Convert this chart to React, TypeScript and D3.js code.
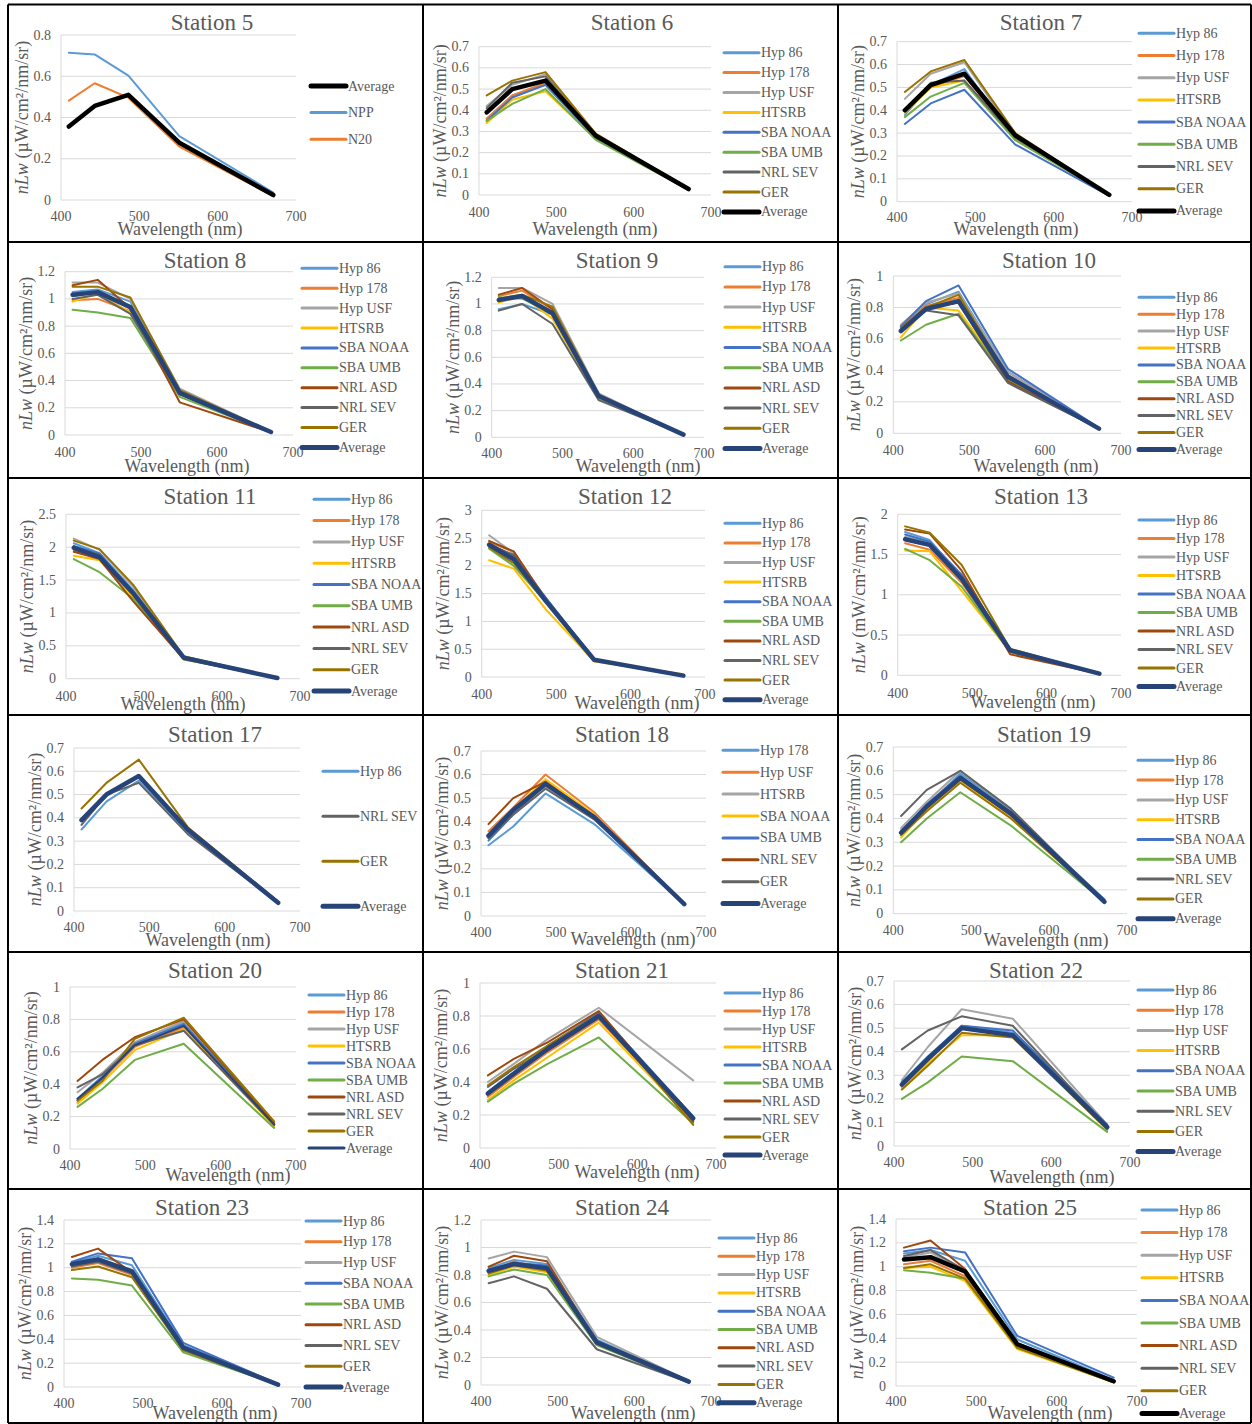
import React from 'react';
import * as d3 from 'd3';

// band centres (nm)
const wavelengths = [410, 443, 486, 551, 671];
const xTicks = [400, 500, 600, 700];

const st5 = { Average: [0.356, 0.456, 0.51, 0.278, 0.024], NPP: [0.714, 0.706, 0.603, 0.31, 0.036], N20: [0.482, 0.566, 0.496, 0.259, 0.02] };
const st6 = {
  'Hyp 86': [0.36, 0.47, 0.52, 0.27, 0.025], 'Hyp 178': [0.36, 0.47, 0.53, 0.28, 0.025], 'Hyp USF': [0.42, 0.52, 0.57, 0.28, 0.03],
  HTSRB: [0.34, 0.45, 0.49, 0.265, 0.025], 'SBA NOAA': [0.35, 0.46, 0.52, 0.27, 0.025], 'SBA UMB': [0.35, 0.43, 0.5, 0.26, 0.025],
  'NRL SEV': [0.41, 0.53, 0.56, 0.28, 0.03], GER: [0.47, 0.54, 0.58, 0.29, 0.03], Average: [0.39, 0.5, 0.54, 0.28, 0.028],
};
const st7 = {
  'Hyp 86': [0.38, 0.51, 0.58, 0.27, 0.03], 'Hyp 178': [0.4, 0.5, 0.55, 0.28, 0.03], 'Hyp USF': [0.45, 0.56, 0.61, 0.29, 0.03],
  HTSRB: [0.39, 0.5, 0.53, 0.27, 0.03], 'SBA NOAA': [0.34, 0.43, 0.49, 0.25, 0.025], 'SBA UMB': [0.37, 0.46, 0.52, 0.27, 0.03],
  'NRL SEV': [0.4, 0.52, 0.53, 0.28, 0.03], GER: [0.48, 0.57, 0.62, 0.3, 0.03], Average: [0.4, 0.51, 0.56, 0.29, 0.03],
};
const st8 = {
  'Hyp 86': [1.05, 1.07, 0.98, 0.32, 0.025], 'Hyp 178': [0.99, 1.0, 0.91, 0.3, 0.02], 'Hyp USF': [1.12, 1.12, 1.0, 0.34, 0.025],
  HTSRB: [0.98, 1.04, 0.9, 0.3, 0.02], 'SBA NOAA': [1.02, 1.05, 0.93, 0.31, 0.02], 'SBA UMB': [0.92, 0.9, 0.86, 0.28, 0.02],
  'NRL ASD': [1.1, 1.14, 0.93, 0.24, 0.02], 'NRL SEV': [1.0, 1.03, 0.89, 0.3, 0.02], GER: [1.09, 1.09, 1.01, 0.33, 0.025],
  Average: [1.03, 1.05, 0.94, 0.31, 0.022],
};
const st9 = {
  'Hyp 86': [0.96, 1.0, 0.92, 0.3, 0.02], 'Hyp 178': [1.06, 1.1, 0.96, 0.31, 0.02], 'Hyp USF': [1.12, 1.12, 1.0, 0.33, 0.02],
  HTSRB: [1.01, 1.06, 0.89, 0.29, 0.02], 'SBA NOAA': [1.03, 1.06, 0.94, 0.31, 0.02], 'SBA UMB': [1.05, 1.04, 0.93, 0.3, 0.02],
  'NRL ASD': [1.07, 1.12, 0.96, 0.31, 0.02], 'NRL SEV': [0.95, 1.0, 0.85, 0.28, 0.02], GER: [1.04, 1.07, 0.98, 0.32, 0.02],
  Average: [1.03, 1.06, 0.93, 0.31, 0.02],
};
const st10 = {
  'Hyp 86': [0.68, 0.82, 0.9, 0.39, 0.03], 'Hyp 178': [0.67, 0.81, 0.86, 0.37, 0.03], 'Hyp USF': [0.69, 0.83, 0.89, 0.39, 0.03],
  HTSRB: [0.61, 0.8, 0.78, 0.35, 0.03], 'SBA NOAA': [0.68, 0.84, 0.94, 0.41, 0.035], 'SBA UMB': [0.59, 0.69, 0.76, 0.34, 0.03],
  'NRL ASD': [0.66, 0.8, 0.83, 0.33, 0.03], 'NRL SEV': [0.66, 0.78, 0.75, 0.32, 0.03], GER: [0.67, 0.8, 0.88, 0.36, 0.03],
  Average: [0.65, 0.79, 0.84, 0.36, 0.03],
};
const st11 = {
  'Hyp 86': [2.06, 1.91, 1.35, 0.32, 0.01], 'Hyp 178': [1.95, 1.83, 1.27, 0.31, 0.01], 'Hyp USF': [2.13, 1.96, 1.4, 0.33, 0.01],
  HTSRB: [1.87, 1.8, 1.25, 0.3, 0.01], 'SBA NOAA': [2.02, 1.9, 1.33, 0.32, 0.01], 'SBA UMB': [1.82, 1.62, 1.22, 0.29, 0.01],
  'NRL ASD': [1.93, 1.82, 1.18, 0.3, 0.01], 'NRL SEV': [2.0, 1.88, 1.3, 0.32, 0.01], GER: [2.1, 1.97, 1.43, 0.34, 0.01],
  Average: [1.99, 1.85, 1.3, 0.32, 0.01],
};
const st12 = {
  'Hyp 86': [2.4, 2.15, 1.42, 0.31, 0.02], 'Hyp 178': [2.43, 2.25, 1.4, 0.31, 0.02], 'Hyp USF': [2.55, 2.23, 1.42, 0.32, 0.02],
  HTSRB: [2.1, 1.95, 1.22, 0.28, 0.05], 'SBA NOAA': [2.4, 2.18, 1.43, 0.32, 0.02], 'SBA UMB': [2.31, 2.0, 1.35, 0.3, 0.02],
  'NRL ASD': [2.45, 2.26, 1.4, 0.31, 0.02], 'NRL SEV': [2.37, 2.2, 1.38, 0.31, 0.02], GER: [2.33, 2.05, 1.35, 0.3, 0.03],
  Average: [2.38, 2.12, 1.37, 0.31, 0.025],
};
const st13 = {
  'Hyp 86': [1.78, 1.68, 1.22, 0.31, 0.02], 'Hyp 178': [1.64, 1.56, 1.15, 0.29, 0.02], 'Hyp USF': [1.72, 1.64, 1.2, 0.31, 0.02],
  HTSRB: [1.55, 1.54, 1.05, 0.29, 0.02], 'SBA NOAA': [1.75, 1.66, 1.25, 0.32, 0.02], 'SBA UMB': [1.57, 1.43, 1.1, 0.29, 0.02],
  'NRL ASD': [1.81, 1.76, 1.3, 0.26, 0.02], 'NRL SEV': [1.68, 1.61, 1.18, 0.3, 0.02], GER: [1.85, 1.77, 1.37, 0.33, 0.02],
  Average: [1.69, 1.62, 1.2, 0.31, 0.02],
};
const st17 = {
  'Hyp 86': [0.35, 0.47, 0.56, 0.34, 0.035], 'NRL SEV': [0.37, 0.5, 0.55, 0.33, 0.035],
  GER: [0.44, 0.55, 0.65, 0.36, 0.04], Average: [0.39, 0.5, 0.58, 0.35, 0.035],
};
const st18 = {
  'Hyp 178': [0.3, 0.38, 0.52, 0.39, 0.05], 'Hyp USF': [0.36, 0.46, 0.6, 0.44, 0.05], HTSRB: [0.33, 0.44, 0.55, 0.41, 0.05],
  'SBA NOAA': [0.34, 0.45, 0.58, 0.43, 0.05], 'SBA UMB': [0.32, 0.43, 0.56, 0.42, 0.05], 'NRL SEV': [0.39, 0.5, 0.57, 0.42, 0.05],
  GER: [0.33, 0.43, 0.54, 0.41, 0.05], Average: [0.34, 0.45, 0.56, 0.42, 0.05],
};
const st19 = {
  'Hyp 86': [0.35, 0.45, 0.59, 0.43, 0.06], 'Hyp 178': [0.33, 0.44, 0.56, 0.41, 0.05], 'Hyp USF': [0.36, 0.47, 0.6, 0.44, 0.05],
  HTSRB: [0.32, 0.44, 0.56, 0.4, 0.05], 'SBA NOAA': [0.34, 0.46, 0.58, 0.42, 0.06], 'SBA UMB': [0.3, 0.4, 0.51, 0.37, 0.05],
  'NRL SEV': [0.41, 0.52, 0.6, 0.44, 0.05], GER: [0.33, 0.43, 0.55, 0.4, 0.05], Average: [0.34, 0.45, 0.57, 0.42, 0.05],
};
const st20 = {
  'Hyp 86': [0.31, 0.45, 0.65, 0.78, 0.15], 'Hyp 178': [0.29, 0.43, 0.63, 0.75, 0.15], 'Hyp USF': [0.35, 0.47, 0.66, 0.79, 0.16],
  HTSRB: [0.28, 0.41, 0.61, 0.74, 0.14], 'SBA NOAA': [0.3, 0.44, 0.65, 0.77, 0.16], 'SBA UMB': [0.26, 0.37, 0.55, 0.65, 0.13],
  'NRL ASD': [0.42, 0.55, 0.69, 0.8, 0.16], 'NRL SEV': [0.38, 0.46, 0.64, 0.73, 0.15], GER: [0.3, 0.42, 0.68, 0.81, 0.17],
  Average: [0.31, 0.44, 0.64, 0.76, 0.15],
};
const st21 = {
  'Hyp 86': [0.34, 0.46, 0.62, 0.82, 0.18], 'Hyp 178': [0.31, 0.43, 0.58, 0.78, 0.17], 'Hyp USF': [0.4, 0.51, 0.66, 0.85, 0.41],
  HTSRB: [0.29, 0.41, 0.55, 0.76, 0.16], 'SBA NOAA': [0.33, 0.45, 0.61, 0.82, 0.19], 'SBA UMB': [0.28, 0.39, 0.51, 0.67, 0.15],
  'NRL ASD': [0.44, 0.54, 0.64, 0.83, 0.16], 'NRL SEV': [0.37, 0.48, 0.6, 0.79, 0.17], GER: [0.38, 0.49, 0.62, 0.81, 0.14],
  Average: [0.33, 0.45, 0.6, 0.8, 0.18],
};
const st22 = {
  'Hyp 86': [0.27, 0.38, 0.51, 0.48, 0.08], 'Hyp 178': [0.25, 0.36, 0.5, 0.47, 0.08], 'Hyp USF': [0.28, 0.42, 0.58, 0.54, 0.09],
  HTSRB: [0.24, 0.35, 0.47, 0.47, 0.07], 'SBA NOAA': [0.27, 0.37, 0.51, 0.49, 0.09], 'SBA UMB': [0.2, 0.27, 0.38, 0.36, 0.06],
  'NRL SEV': [0.41, 0.49, 0.55, 0.51, 0.08], GER: [0.24, 0.34, 0.48, 0.46, 0.07], Average: [0.26, 0.37, 0.5, 0.47, 0.08],
};
const st23 = {
  'Hyp 86': [1.04, 1.1, 1.02, 0.35, 0.02], 'Hyp 178': [1.0, 1.04, 0.94, 0.32, 0.02], 'Hyp USF': [1.02, 1.08, 0.98, 0.33, 0.02],
  'SBA NOAA': [1.05, 1.12, 1.08, 0.37, 0.025], 'SBA UMB': [0.91, 0.9, 0.85, 0.29, 0.02], 'NRL ASD': [1.09, 1.16, 0.96, 0.31, 0.02],
  'NRL SEV': [1.01, 1.05, 0.95, 0.32, 0.02], GER: [0.98, 1.01, 0.92, 0.31, 0.02], Average: [1.03, 1.07, 0.97, 0.33, 0.02],
};
const st24 = {
  'Hyp 86': [0.85, 0.91, 0.88, 0.33, 0.03], 'Hyp 178': [0.82, 0.9, 0.84, 0.31, 0.03], 'Hyp USF': [0.92, 0.97, 0.93, 0.35, 0.03],
  HTSRB: [0.8, 0.86, 0.82, 0.3, 0.02], 'SBA NOAA': [0.84, 0.89, 0.87, 0.32, 0.03], 'SBA UMB': [0.79, 0.84, 0.8, 0.29, 0.02],
  'NRL ASD': [0.86, 0.94, 0.9, 0.31, 0.02], 'NRL SEV': [0.74, 0.79, 0.7, 0.26, 0.02], GER: [0.81, 0.87, 0.83, 0.3, 0.02],
  Average: [0.83, 0.88, 0.85, 0.31, 0.025],
};
const st25 = {
  'Hyp 86': [1.11, 1.14, 1.05, 0.39, 0.05], 'Hyp 178': [1.02, 1.05, 0.92, 0.33, 0.04], 'Hyp USF': [1.08, 1.12, 0.96, 0.36, 0.04],
  HTSRB: [0.99, 1.0, 0.88, 0.31, 0.03], 'SBA NOAA': [1.13, 1.16, 1.12, 0.42, 0.07], 'SBA UMB': [0.97, 0.95, 0.9, 0.32, 0.03],
  'NRL ASD': [1.16, 1.22, 0.98, 0.34, 0.04], 'NRL SEV': [1.09, 1.14, 0.97, 0.36, 0.04], GER: [0.99, 1.02, 0.9, 0.32, 0.03],
  Average: [1.06, 1.08, 0.96, 0.35, 0.04],
};

// styling
const FONT = '"Liberation Serif", "Times New Roman", serif';
const TEXT = '#595959';
const GRID = '#d9d9d9';
const NAVY = '#264478';
const colorByName = {
  'Hyp 86': '#5B9BD5', 'Hyp 178': '#ED7D31', 'Hyp USF': '#A5A5A5', HTSRB: '#FFC000', 'SBA NOAA': '#4472C4',
  'SBA UMB': '#70AD47', 'NRL ASD': '#9E480E', 'NRL SEV': '#636363', GER: '#997300', NPP: '#5B9BD5', N20: '#ED7D31',
};
// station 18 was coloured by series position
const st18Colors = ['#5B9BD5', '#ED7D31', '#A5A5A5', '#FFC000', '#4472C4', '#9E480E', '#636363', NAVY];

// panel layout: plot box, title, ticks, legend (page coords)
const panels = [
  { t: 'Station 5', d: st5, ymax: 0.8, step: 0.2, x0: 61, x1: 296, yT: 35, yB: 200, tx: 212, ty: 22, tickY: 216, xtx: 180, xty: 229, lx: 311, ly: 86, ldy: 26.6, avg: '#000' },
  { t: 'Station 6', d: st6, ymax: 0.7, step: 0.1, x0: 479, x1: 711, yT: 46.7, yB: 195, tx: 632, ty: 22, tickY: 212, xtx: 595, xty: 229, lx: 724, ly: 52.7, ldy: 19.9, avg: '#000' },
  { t: 'Station 7', d: st7, ymax: 0.7, step: 0.1, x0: 897, x1: 1132, yT: 41.7, yB: 201.7, tx: 1041, ty: 22, tickY: 217, xtx: 1016, xty: 229, lx: 1139, ly: 33.3, ldy: 22.2, avg: '#000' },
  { t: 'Station 8', d: st8, ymax: 1.2, step: 0.2, x0: 65, x1: 293, yT: 271.7, yB: 435, tx: 205, ty: 260, tickY: 452, xtx: 187, xty: 466, lx: 302, ly: 268.3, ldy: 19.9 },
  { t: 'Station 9', d: st9, ymax: 1.2, step: 0.2, x0: 491.7, x1: 704, yT: 277.3, yB: 437.3, tx: 617, ty: 260, tickY: 453, xtx: 638, xty: 466, lx: 725, ly: 266.7, ldy: 20.2 },
  { t: 'Station 10', d: st10, ymax: 1, step: 0.2, x0: 893.3, x1: 1121, yT: 276, yB: 433.3, tx: 1049, ty: 260, tickY: 450, xtx: 1036, xty: 466, lx: 1139, ly: 297.3, ldy: 16.9 },
  { t: 'Station 11', d: st11, ymax: 2.5, step: 0.5, x0: 66, x1: 300, yT: 514.3, yB: 678.7, tx: 210, ty: 496, tickY: 696, xtx: 183, xty: 704, lx: 314, ly: 499.3, ldy: 21.3 },
  { t: 'Station 12', d: st12, ymax: 3, step: 0.5, x0: 481.7, x1: 705, yT: 510.3, yB: 677, tx: 625, ty: 496, tickY: 694, xtx: 637, xty: 703, lx: 725, ly: 523.3, ldy: 19.6 },
  { t: 'Station 13', d: st13, ymax: 2, step: 0.5, x0: 897.7, x1: 1121, yT: 514.3, yB: 675.3, tx: 1041, ty: 496, tickY: 693, xtx: 1033, xty: 702, lx: 1139, ly: 520, ldy: 18.5, unit: 'mW' },
  { t: 'Station 17', d: st17, ymax: 0.7, step: 0.1, x0: 74, x1: 300, yT: 748, yB: 911, tx: 215, ty: 734, tickY: 927, xtx: 208, xty: 940, lx: 323, ly: 771.3, ldy: 45 },
  { t: 'Station 18', d: st18, ymax: 0.7, step: 0.1, x0: 481, x1: 706, yT: 751, yB: 916, tx: 622, ty: 734, tickY: 932, xtx: 633, xty: 939, lx: 723, ly: 750.3, ldy: 21.9, colors: st18Colors },
  { t: 'Station 19', d: st19, ymax: 0.7, step: 0.1, x0: 893.3, x1: 1127, yT: 747, yB: 913.7, tx: 1044, ty: 734, tickY: 930, xtx: 1046, xty: 940, lx: 1138, ly: 760.3, ldy: 19.8 },
  { t: 'Station 20', d: st20, ymax: 1, step: 0.2, x0: 70, x1: 296, yT: 987, yB: 1149, tx: 215, ty: 970, tickY: 1165, xtx: 228, xty: 1175, lx: 309, ly: 995, ldy: 17, thinAvg: true },
  { t: 'Station 21', d: st21, ymax: 1, step: 0.2, x0: 480, x1: 716, yT: 983, yB: 1148, tx: 622, ty: 970, tickY: 1164, xtx: 637, xty: 1172, lx: 725, ly: 993, ldy: 18 },
  { t: 'Station 22', d: st22, ymax: 0.7, step: 0.1, x0: 894, x1: 1130, yT: 981, yB: 1146, tx: 1036, ty: 970, tickY: 1162, xtx: 1052, xty: 1177, lx: 1138, ly: 990, ldy: 20.2 },
  { t: 'Station 23', d: st23, ymax: 1.4, step: 0.2, x0: 64, x1: 301, yT: 1220, yB: 1387, tx: 202, ty: 1207, tickY: 1403, xtx: 215, xty: 1413, lx: 306, ly: 1221, ldy: 20.75 },
  { t: 'Station 24', d: st24, ymax: 1.2, step: 0.2, x0: 481, x1: 711, yT: 1220, yB: 1385, tx: 622, ty: 1207, tickY: 1401, xtx: 633, xty: 1413, lx: 719, ly: 1238, ldy: 18.3 },
  { t: 'Station 25', d: st25, ymax: 1.4, step: 0.2, x0: 896, x1: 1137, yT: 1219, yB: 1386, tx: 1030, ty: 1207, tickY: 1401, xtx: 1050, xty: 1413, lx: 1142, ly: 1210, ldy: 22.6, avg: '#000' },
];

const fmt = d3.format('.2~f');

function Panel({ p }: { p: any }) {
  const x = d3.scaleLinear().domain([400, 700]).range([p.x0, p.x1]);
  const y = d3.scaleLinear().domain([0, p.ymax]).range([p.yB, p.yT]);
  const yTicks = d3.range(0, p.ymax + p.step / 2, p.step);
  const line = d3
    .line<number>()
    .x((_, i) => x(wavelengths[i]))
    .y((v) => y(v));

  const names = Object.keys(p.d);
  const colorOf = (n: string, i: number) =>
    p.colors ? p.colors[i] : n === 'Average' ? p.avg || NAVY : colorByName[n];
  const widthOf = (n: string) => (n === 'Average' && !p.thinAvg ? 4.5 : 2);
  // draw average on top
  const order = [...names.filter((n) => n !== 'Average'), ...names.filter((n) => n === 'Average')];
  const unit = p.unit || 'µW';

  return (
    <g fontFamily={FONT} fill={TEXT}>
      <text x={p.tx} y={p.ty} textAnchor="middle" dominantBaseline="central" fontSize={23}>
        {p.t}
      </text>
      {yTicks.map((t) => (
        <g key={t}>
          <line x1={p.x0} x2={p.x1} y1={y(t)} y2={y(t)} stroke={GRID} strokeWidth={1} />
          <text x={p.x0 - 10} y={y(t)} textAnchor="end" dominantBaseline="central" fontSize={14}>
            {fmt(t)}
          </text>
        </g>
      ))}
      <line x1={p.x0} x2={p.x0} y1={p.yT} y2={p.yB} stroke={GRID} strokeWidth={1} />
      {xTicks.map((t) => (
        <text key={t} x={x(t)} y={p.tickY} textAnchor="middle" dominantBaseline="central" fontSize={14}>
          {t}
        </text>
      ))}
      <text x={p.xtx} y={p.xty} textAnchor="middle" dominantBaseline="central" fontSize={18}>
        Wavelength (nm)
      </text>
      <text
        transform={`translate(${p.x0 - 39},${(p.yT + p.yB) / 2}) rotate(-90)`}
        textAnchor="middle"
        dominantBaseline="central"
        fontSize={18}
      >
        <tspan fontStyle="italic">nLw</tspan>
        <tspan>{` (${unit}/cm²/nm/sr)`}</tspan>
      </text>
      {order.map((n) => (
        <path
          key={n}
          d={line(p.d[n]) || ''}
          fill="none"
          stroke={colorOf(n, names.indexOf(n))}
          strokeWidth={widthOf(n)}
          strokeLinejoin="round"
          strokeLinecap="round"
        />
      ))}
      {names.map((n, i) => (
        <g key={n}>
          <line
            x1={p.lx}
            x2={p.lx + 35}
            y1={p.ly + i * p.ldy}
            y2={p.ly + i * p.ldy}
            stroke={colorOf(n, i)}
            strokeWidth={n === 'Average' && !p.thinAvg ? 5 : 3}
            strokeLinecap="round"
          />
          <text x={p.lx + 37} y={p.ly + i * p.ldy} dominantBaseline="central" fontSize={14}>
            {n}
          </text>
        </g>
      ))}
    </g>
  );
}

const colLines = [8, 423, 838, 1251];
const rowLines = [4.5, 242, 478, 715, 952, 1189, 1423];

export default function App() {
  return (
    <svg
      width={1252}
      height={1424}
      style={{ position: 'absolute', left: 0, top: 0, background: '#fff' }}
    >
      <rect width={1252} height={1424} fill="#fff" />
      {panels.map((p) => (
        <Panel key={p.t} p={p} />
      ))}
      {colLines.map((cx) => (
        <line key={'c' + cx} x1={cx} x2={cx} y1={4.5} y2={1423} stroke="#000" strokeWidth={2} />
      ))}
      {rowLines.map((ry) => (
        <line key={'r' + ry} x1={8} x2={1251} y1={ry} y2={ry} stroke="#000" strokeWidth={2} />
      ))}
    </svg>
  );
}
